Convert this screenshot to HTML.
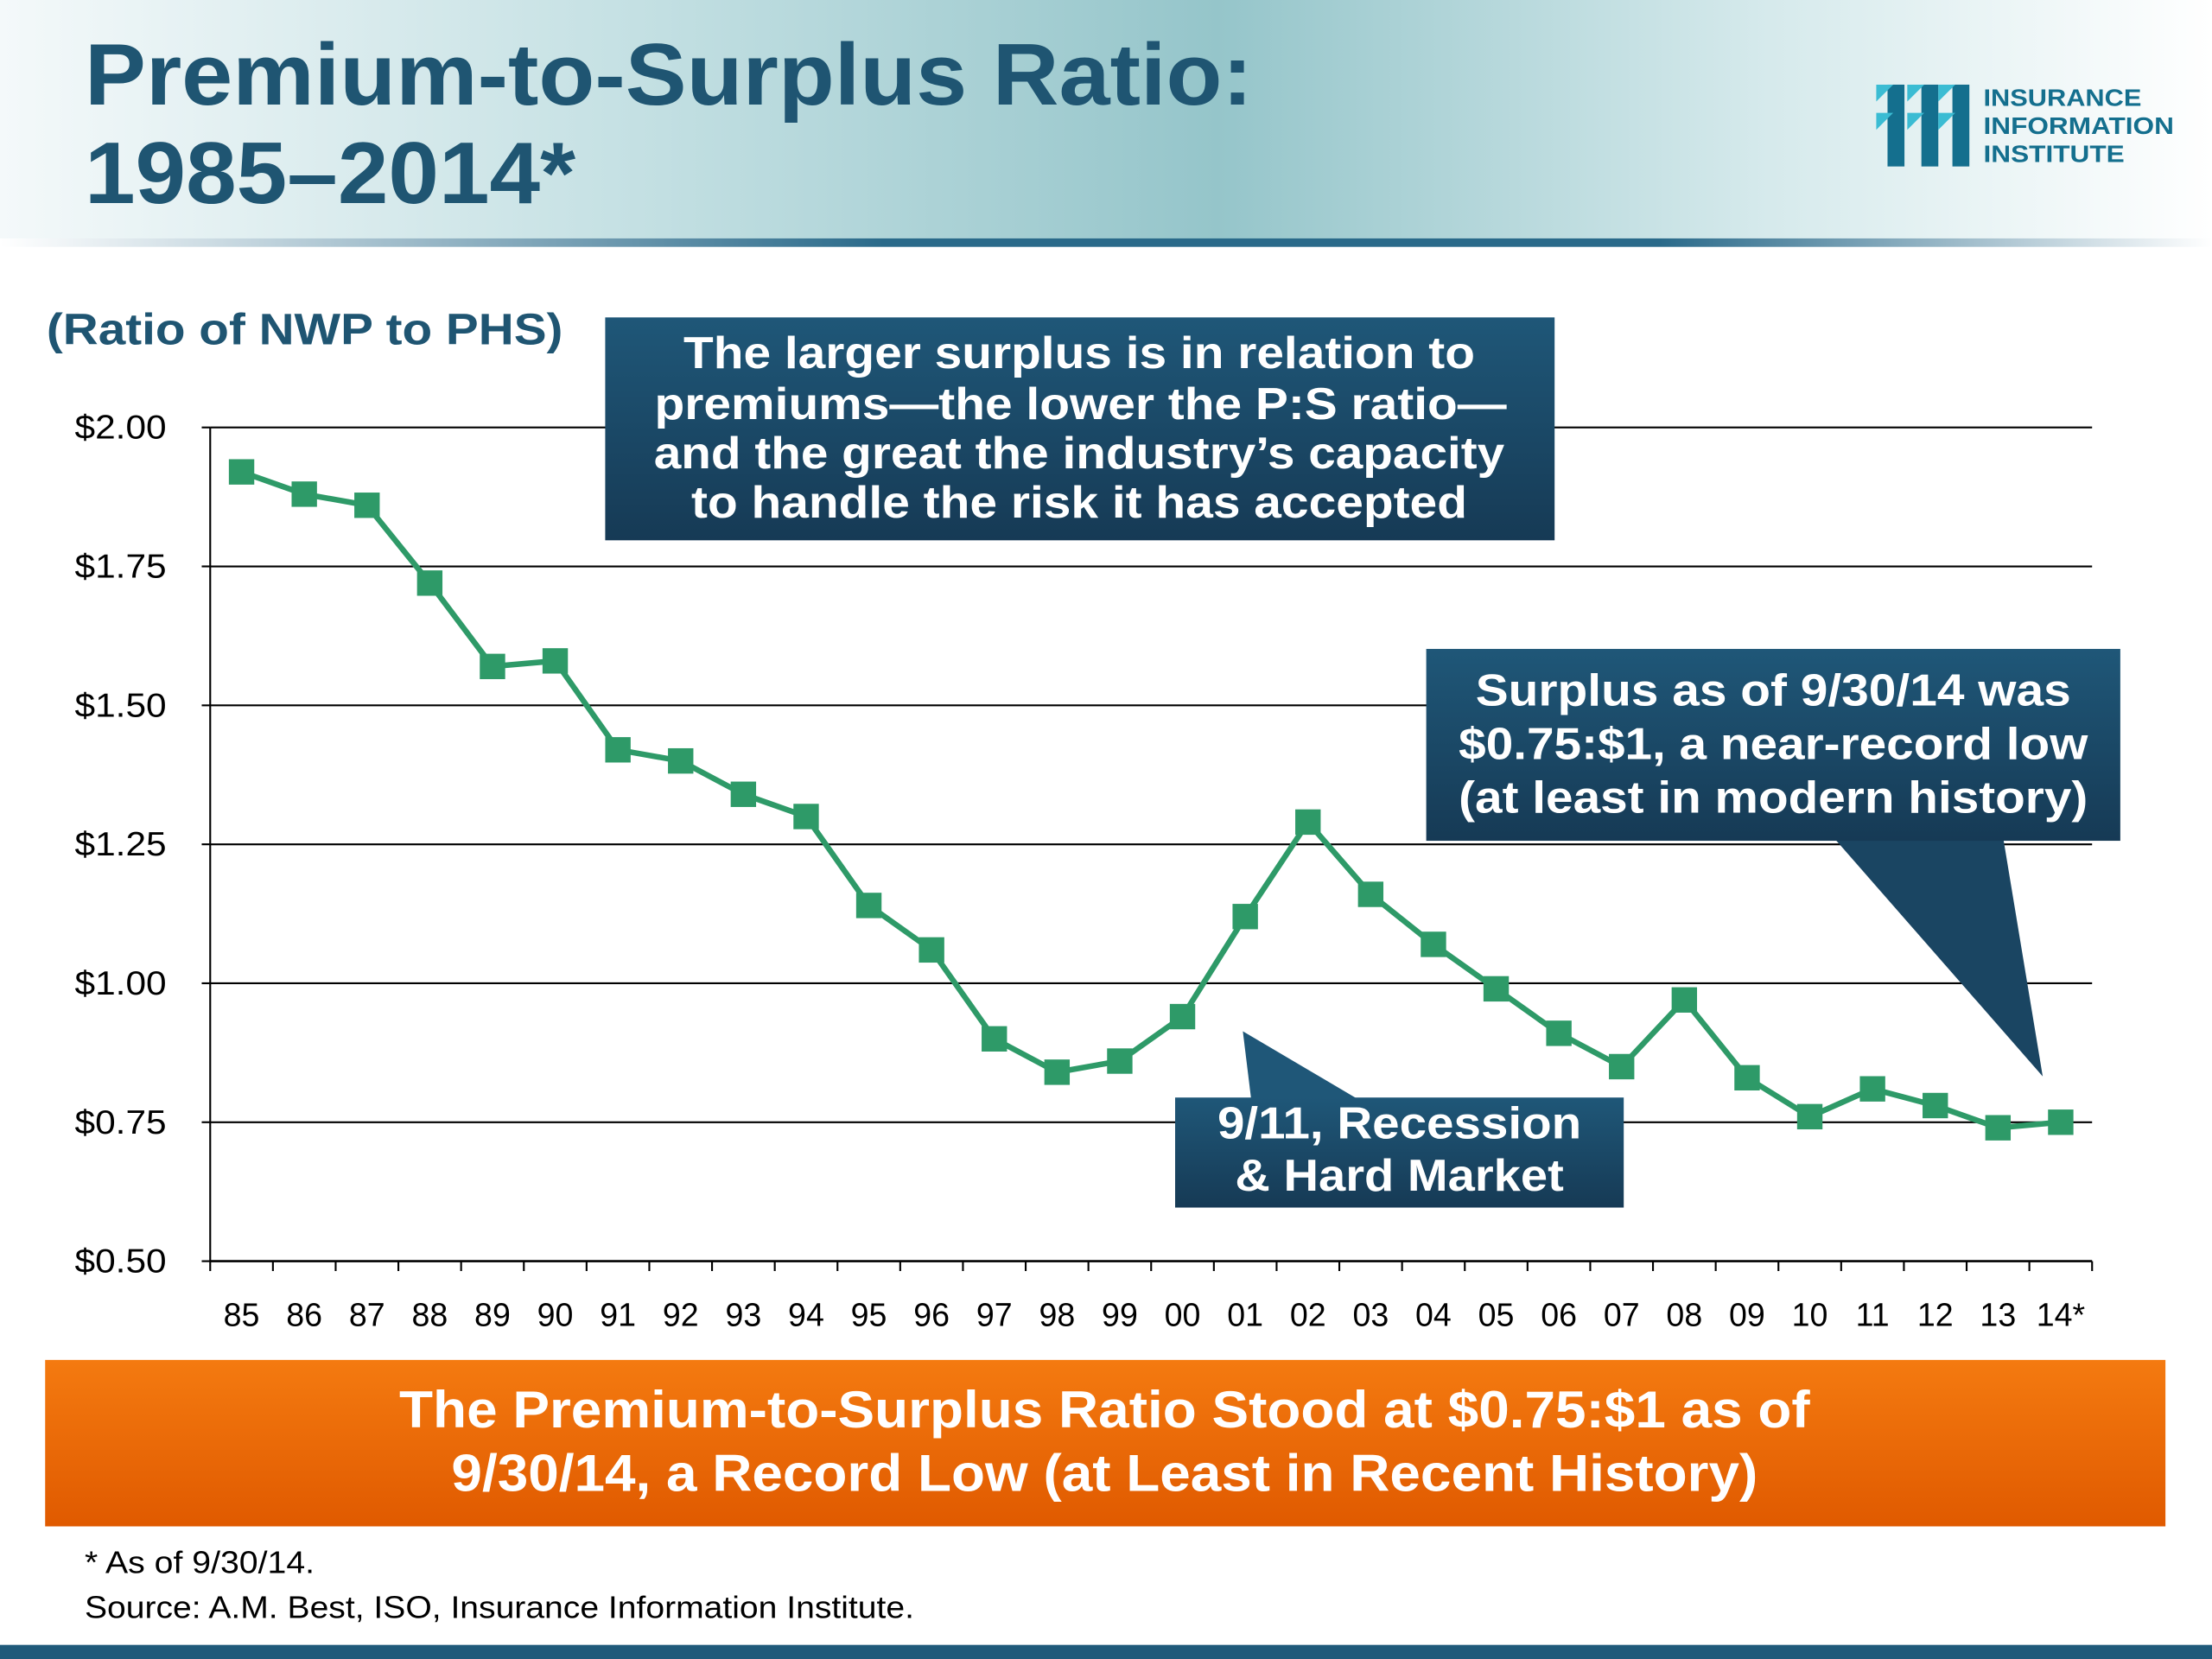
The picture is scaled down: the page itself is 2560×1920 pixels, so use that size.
<!DOCTYPE html>
<html><head><meta charset="utf-8"><style>
html,body{margin:0;padding:0;background:#fff;}
svg{display:block;font-family:"Liberation Sans",Arial,sans-serif;}
</style></head><body>
<svg id="chart" width="2560" height="1920" viewBox="0 0 1568 1176" xmlns="http://www.w3.org/2000/svg">
<defs>
<linearGradient id="hdr" x1="0" x2="1" y1="0" y2="0">
<stop offset="0" stop-color="#f4f9fa"/><stop offset="0.3" stop-color="#c2dfe2"/><stop offset="0.55" stop-color="#95c5ca"/><stop offset="0.8" stop-color="#d6eaec"/><stop offset="1" stop-color="#ffffff"/>
</linearGradient>
<linearGradient id="hdrline" x1="0" x2="1"><stop offset="0" stop-color="#ffffff"/><stop offset="0.4" stop-color="#2a6a8a"/><stop offset="0.75" stop-color="#2a6a8a"/><stop offset="1" stop-color="#ffffff"/></linearGradient>
<linearGradient id="box" x1="0" x2="0" y1="0" y2="1"><stop offset="0" stop-color="#1f5778"/><stop offset="1" stop-color="#163a55"/></linearGradient>
<linearGradient id="orange" x1="0" x2="0" y1="0" y2="1"><stop offset="0" stop-color="#f47a10"/><stop offset="1" stop-color="#e05a00"/></linearGradient>
</defs>
<rect x="0" y="0" width="1568" height="170" fill="url(#hdr)"/>
<rect x="0" y="169" width="1568" height="6" fill="url(#hdrline)"/>
<g fill="#1f5572" font-weight="bold" font-size="62">
<text x="60" y="74" textLength="828" lengthAdjust="spacingAndGlyphs">Premium-to-Surplus Ratio:</text>
<text x="60" y="144" textLength="348" lengthAdjust="spacingAndGlyphs">1985–2014*</text>
</g>
<g>
<rect x="1338" y="60" width="12" height="58" fill="#146f8e"/><rect x="1362" y="60" width="12" height="58" fill="#146f8e"/><rect x="1384" y="60" width="12" height="58" fill="#146f8e"/>
<polygon points="1330,60 1342,60 1330,72" fill="#3bbcd3"/><polygon points="1352,60 1364,60 1352,72" fill="#3bbcd3"/><polygon points="1374,60 1386,60 1374,72" fill="#3bbcd3"/>
<polygon points="1330,80 1342,80 1330,92" fill="#3bbcd3"/><polygon points="1352,80 1364,80 1352,92" fill="#3bbcd3"/><polygon points="1374,80 1386,80 1374,92" fill="#3bbcd3"/>
<g fill="#146f8e" font-weight="bold" font-size="17"><text x="1406" y="75" textLength="112" lengthAdjust="spacingAndGlyphs">INSURANCE</text><text x="1406" y="95" textLength="135" lengthAdjust="spacingAndGlyphs">INFORMATION</text><text x="1406" y="115" textLength="100" lengthAdjust="spacingAndGlyphs">INSTITUTE</text></g>
</g>
<text x="33" y="244" fill="#1f5572" font-weight="bold" font-size="31" textLength="366" lengthAdjust="spacingAndGlyphs">(Ratio of NWP to PHS)</text>
<g id="grid"></g>
<g id="yticks" font-size="24" fill="#000" text-anchor="end"></g>
<g id="xaxis"></g>
<g id="series"></g>

<g>
<rect x="429" y="225" width="673" height="158" fill="url(#box)"/>
<g fill="#fff" font-weight="bold" font-size="32" text-anchor="middle">
<text x="765" y="261" textLength="561" lengthAdjust="spacingAndGlyphs">The larger surplus is in relation to</text>
<text x="766" y="297" textLength="604" lengthAdjust="spacingAndGlyphs">premiums—the lower the P:S ratio—</text>
<text x="765" y="332" textLength="603" lengthAdjust="spacingAndGlyphs">and the great the industry’s capacity</text>
<text x="765" y="367" textLength="550" lengthAdjust="spacingAndGlyphs">to handle the risk it has accepted</text>
</g></g>
<g>
<polygon points="1300,594 1420,594 1448,763" fill="#1a4562"/>
<rect x="1011" y="460" width="492" height="136" fill="url(#box)"/>
<g fill="#fff" font-weight="bold" font-size="32" text-anchor="middle">
<text x="1257" y="500" textLength="422" lengthAdjust="spacingAndGlyphs">Surplus as of 9/30/14 was</text>
<text x="1257" y="538" textLength="446" lengthAdjust="spacingAndGlyphs">$0.75:$1, a near-record low</text>
<text x="1257" y="576" textLength="446" lengthAdjust="spacingAndGlyphs">(at least in modern history)</text>
</g></g>
<g>
<polygon points="881,731 887,780 964,780" fill="#1f5778"/>
<rect x="833" y="778" width="318" height="78" fill="url(#box)"/>
<g fill="#fff" font-weight="bold" font-size="32" text-anchor="middle">
<text x="992" y="807" textLength="258" lengthAdjust="spacingAndGlyphs">9/11, Recession</text>
<text x="992" y="844" textLength="233" lengthAdjust="spacingAndGlyphs">&amp; Hard Market</text>
</g></g>

<g>
<rect x="32" y="964" width="1503" height="118" fill="url(#orange)"/>
<g fill="#fff" font-weight="bold" font-size="37" text-anchor="middle">
<text x="783" y="1012" textLength="1000" lengthAdjust="spacingAndGlyphs">The Premium-to-Surplus Ratio Stood at $0.75:$1 as of</text>
<text x="783" y="1057" textLength="926" lengthAdjust="spacingAndGlyphs">9/30/14, a Record Low (at Least in Recent History)</text>
</g></g>
<text x="60" y="1115" font-size="22" fill="#000" textLength="163" lengthAdjust="spacingAndGlyphs">* As of 9/30/14.</text>
<text x="60" y="1147" font-size="22" fill="#000" textLength="588" lengthAdjust="spacingAndGlyphs">Source: A.M. Best, ISO, Insurance Information Institute.</text>
<rect x="0" y="1166" width="1568" height="10" fill="#1f5a7a"/>
</svg>
<script>
const categories = ["85","86","87","88","89","90","91","92","93","94","95","96","97","98","99","00","01","02","03","04","05","06","07","08","09","10","11","12","13","14*"];
const ratioValues = [1.92,1.88,1.86,1.72,1.57,1.58,1.42,1.40,1.34,1.30,1.14,1.06,0.90,0.84,0.86,0.94,1.12,1.29,1.16,1.07,0.99,0.91,0.85,0.97,0.83,0.76,0.81,0.78,0.74,0.75];
const yTickValues = [0.5,0.75,1.0,1.25,1.5,1.75,2.0];
const yTickLabels = ["$0.50","$0.75","$1.00","$1.25","$1.50","$1.75","$2.00"];

const NS = "http://www.w3.org/2000/svg";
const X0 = 149, X1 = 1483, Y0 = 894, Y1 = 303, YMIN = 0.5, YMAX = 2.0;
const step = (X1 - X0) / categories.length;
function xScale(i){ return X0 + step * (i + 0.5); }
function yScale(v){ return Y0 - (v - YMIN) / (YMAX - YMIN) * (Y0 - Y1); }
function mk(tag, attrs, parent){ const e = document.createElementNS(NS, tag); for (const k in attrs) e.setAttribute(k, attrs[k]); parent.appendChild(e); return e; }

const grid = document.getElementById('grid');
const yt = document.getElementById('yticks');
yTickValues.forEach((v, i) => {
  const y = yScale(v);
  if (i > 0) {
    const l = mk('line', {x1: X0, x2: X1, y1: y, y2: y, stroke: '#000', 'stroke-width': 1.3}, grid);
    
    
  }
  const t = mk('text', {x: 118, y: y + 8, textLength: 65, lengthAdjust: 'spacingAndGlyphs'}, yt);
  t.textContent = yTickLabels[i];
  
  
});

const xa = document.getElementById('xaxis');
mk('line', {x1: X0, x2: X0, y1: Y1, y2: Y0, stroke: '#000', 'stroke-width': 1.3}, xa);
yTickValues.forEach(v => { mk('line', {x1: X0 - 6, x2: X0, y1: yScale(v), y2: yScale(v), stroke: '#000', 'stroke-width': 1.3}, xa); });
mk('line', {x1: X0, x2: X1, y1: Y0, y2: Y0, stroke: '#000', 'stroke-width': 1.6}, xa);
for (let i = 0; i <= categories.length; i++) {
  mk('line', {x1: X0 + step * i, x2: X0 + step * i, y1: Y0, y2: Y0 + 7, stroke: '#000', 'stroke-width': 1.3}, xa);
}
categories.forEach((c, i) => {
  const t = mk('text', {x: xScale(i), y: 940, 'font-size': 23, 'text-anchor': 'middle', fill: '#000'}, xa);
  t.textContent = c;
  
  
});

const s = document.getElementById('series');
const pts = ratioValues.map((v, i) => xScale(i) + ',' + yScale(v)).join(' ');
const line = mk('polyline', {points: pts, fill: 'none', stroke: '#2e9a68', 'stroke-width': 4, 'stroke-linejoin': 'round'}, s);


ratioValues.forEach((v, i) => {
  const r = mk('rect', {x: xScale(i) - 9, y: yScale(v) - 9, width: 18, height: 18, fill: '#2e9a68'}, s);
  
  
});
</script>
</body></html>
